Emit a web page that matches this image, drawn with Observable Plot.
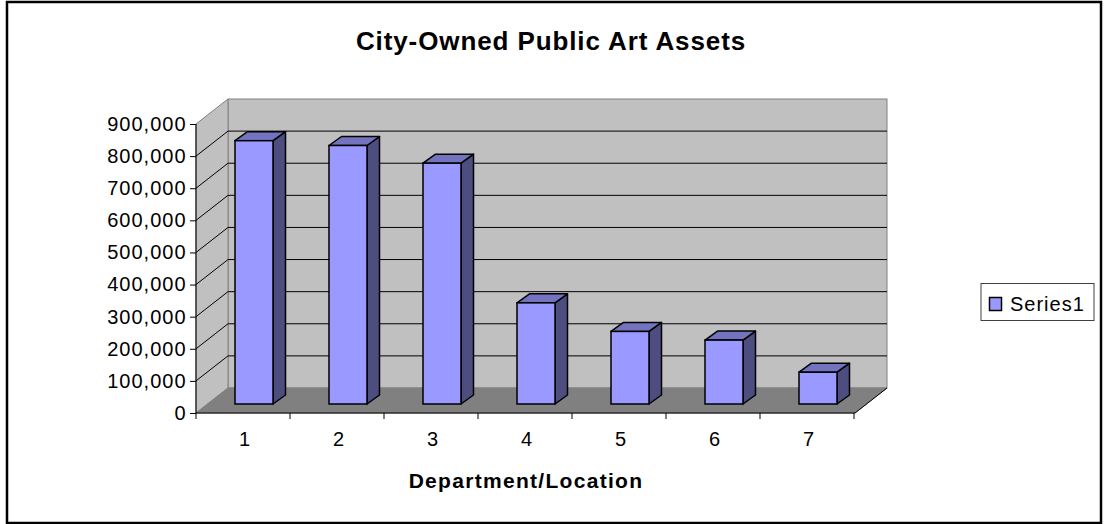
<!DOCTYPE html>
<html><head><meta charset="utf-8">
<script src="https://cdn.jsdelivr.net/npm/d3@7"></script>
<script src="https://cdn.jsdelivr.net/npm/@observablehq/plot@0.6"></script>
<style>
html,body{margin:0;padding:0;background:#fff;}
#chart svg{font-family:"Liberation Sans",Arial,sans-serif;display:block;}
</style></head>
<body><div id="chart"></div>
<script>
// ---- data ----
const categories = [1, 2, 3, 4, 5, 6, 7];
const values = [820000, 805000, 750000, 315000, 226000, 199000, 99000];
const yTicks = [0, 100000, 200000, 300000, 400000, 500000, 600000, 700000, 800000, 900000];
const titleText = "City-Owned Public Art Assets";
const xTitleText = "Department/Location";
const seriesName = "Series1";

const data = categories.map((c, i) => ({category: c, value: values[i]}));

// ---- 3D styling ----
const WALL = {dx: 32, dy: -25};
const BAR_OFF = {dx: 10, dy: -9};
const BAR_DEPTH = {dx: 12.5, dy: -9};
const BAR_INSET = 28;
const C = {front: "#9999ff", top: "#7373bf", side: "#4d4d80", wall: "#c0c0c0", floor: "#808080", edge: "#808080"};

function background(index, scales, vals, dims) {
  const {x, y} = scales;
  const x0 = dims.marginLeft, x1 = dims.width - dims.marginRight;
  const y0 = y(0), yT = y(yTicks[yTicks.length - 1]);
  const bw = x.bandwidth ? x.bandwidth() : (x1 - x0) / categories.length;
  const g = d3.create("svg:g");
  // outer chart border
  g.append("rect").attr("x", 7).attr("y", 2).attr("width", dims.width - 10).attr("height", dims.height - 3)
    .attr("fill", "none").attr("stroke", "#000").attr("stroke-width", 2.5);
  // back wall
  g.append("rect").attr("x", x0 + WALL.dx).attr("y", yT + WALL.dy).attr("width", x1 - x0).attr("height", y0 - yT)
    .attr("fill", C.wall).attr("stroke", C.edge);
  // side wall
  g.append("path").attr("d", `M${x0},${y0}L${x0 + WALL.dx},${y0 + WALL.dy}L${x0 + WALL.dx},${yT + WALL.dy}L${x0},${yT}Z`)
    .attr("fill", C.wall).attr("stroke", C.edge);
  // floor
  g.append("path").attr("d", `M${x0},${y0}L${x1},${y0}L${x1 + WALL.dx},${y0 + WALL.dy}L${x0 + WALL.dx},${y0 + WALL.dy}Z`)
    .attr("fill", C.floor).attr("stroke", C.floor);
  // gridlines
  for (const t of yTicks.slice(1, -1)) {
    const yy = y(t);
    g.append("path").attr("d", `M${x0},${yy}L${x0 + WALL.dx},${yy + WALL.dy}L${x1 + WALL.dx},${yy + WALL.dy}`)
      .attr("fill", "none").attr("stroke", "#000");
  }
  // axis lines
  g.append("path").attr("d", `M${x0},${yT}L${x0},${y0}L${x1},${y0}L${x1 + WALL.dx},${y0 + WALL.dy}`)
    .attr("fill", "none").attr("stroke", "#000");
  // x ticks at category boundaries
  for (let i = 0; i <= categories.length; i++) {
    const xx = x0 + i * bw;
    g.append("line").attr("x1", xx).attr("x2", xx).attr("y1", y0).attr("y2", y0 + 6).attr("stroke", "#000");
  }
  // title
  g.append("text").attr("x", 551).attr("y", 50).attr("text-anchor", "middle")
    .attr("font-size", 26).attr("font-weight", "bold").style("letter-spacing", "0.9px").text(titleText);
  // x title
  g.append("text").attr("x", 526).attr("y", 488).attr("text-anchor", "middle")
    .attr("font-size", 21).attr("font-weight", "bold").style("letter-spacing", "1.3px").text(xTitleText);
  // legend
  g.append("rect").attr("x", 981).attr("y", 283.5).attr("width", 113).attr("height", 37)
    .attr("fill", "#fff").attr("stroke", "#404040").attr("stroke-width", 1);
  g.append("rect").attr("x", 989.5).attr("y", 297.5).attr("width", 12).attr("height", 13)
    .attr("fill", C.front).attr("stroke", "#000").attr("stroke-width", 1.5);
  g.append("text").attr("x", 1010).attr("y", 311).attr("text-anchor", "start")
    .attr("font-size", 20).style("letter-spacing", "1px").text(seriesName);
  return g.node();
}

function barSides(index, scales, vals, dims) {
  const {x, y} = scales;
  const x0 = dims.marginLeft, x1 = dims.width - dims.marginRight;
  const bw = x.bandwidth ? x.bandwidth() : (x1 - x0) / categories.length;
  const g = d3.create("svg:g").attr("stroke", "#000").attr("stroke-width", 1.5).attr("stroke-linejoin", "round");
  for (const d of data) {
    const xl = x(d.category) + BAR_INSET + BAR_OFF.dx;
    const xr = x(d.category) + bw - BAR_INSET + BAR_OFF.dx;
    const yt = y(d.value) + BAR_OFF.dy, yb = y(0) + BAR_OFF.dy;
    g.append("path").attr("fill", C.side)
      .attr("d", `M${xr},${yt}L${xr + BAR_DEPTH.dx},${yt + BAR_DEPTH.dy}L${xr + BAR_DEPTH.dx},${yb + BAR_DEPTH.dy}L${xr},${yb}Z`);
    g.append("path").attr("fill", C.top)
      .attr("d", `M${xl},${yt}L${xr},${yt}L${xr + BAR_DEPTH.dx},${yt + BAR_DEPTH.dy}L${xl + BAR_DEPTH.dx},${yt + BAR_DEPTH.dy}Z`);
  }
  return g.node();
}

const plot = Plot.plot({
  width: 1104,
  height: 524,
  marginLeft: 196,
  marginRight: 249,
  marginTop: 124,
  marginBottom: 111,
  style: {fontFamily: "'Liberation Sans', Arial, sans-serif", fontSize: "20px", background: "#fff", color: "#000"},
  x: {type: "band", domain: categories, padding: 0, label: null},
  y: {domain: [0, 900000], label: null},
  marks: [
    background,
    barSides,
    Plot.barY(data, {x: "category", y: "value", fill: C.front, stroke: "#000", strokeWidth: 1.5,
      insetLeft: BAR_INSET, insetRight: BAR_INSET, dx: BAR_OFF.dx, dy: BAR_OFF.dy}),
    Plot.axisY({ticks: yTicks, tickFormat: d3.format(","), tickSize: 6, tickPadding: 4, fontSize: 20, label: null, stroke: "#000"}),
    Plot.axisX({tickSize: 0, tickPadding: 18, fontSize: 20, label: null})
  ]
});
d3.select(plot).selectAll('g[aria-label="y-axis tick label"] text').style("letter-spacing", "1px");
document.getElementById("chart").appendChild(plot);
</script>
</body></html>
